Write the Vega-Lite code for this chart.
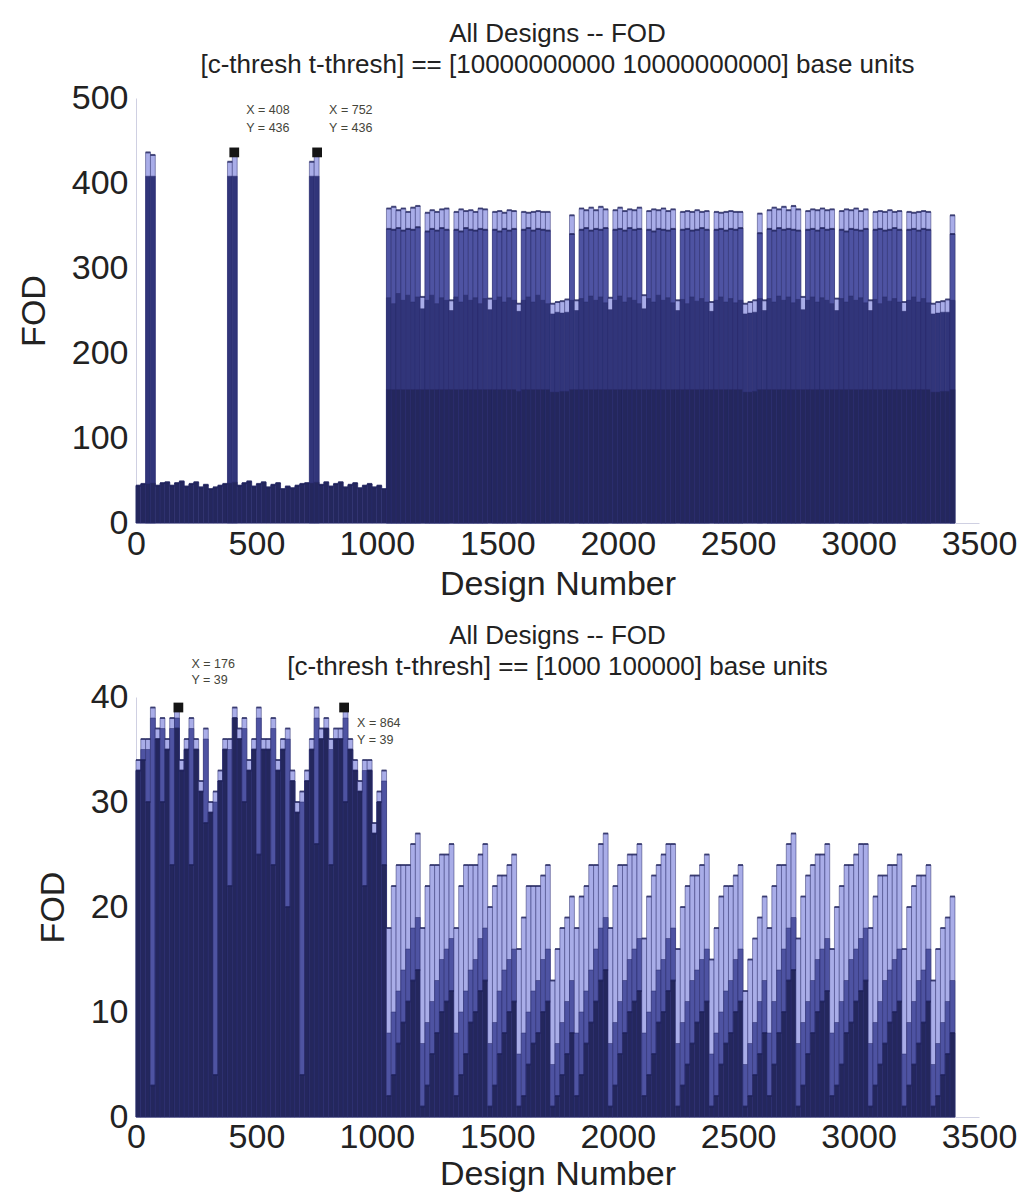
{
  "$schema": "https://vega.github.io/schema/vega-lite/v6.json",
  "background": "white",
  "padding": {"left": 17, "top": 21, "right": 5, "bottom": 2},
  "spacing": 21,
  "config": {
    "font": "Liberation Sans",
    "view": {"stroke": null},
    "axis": {"labelFont": "Liberation Sans", "labelFontSize": 34, "labelColor": "#222", "titleFont": "Liberation Sans", "titleFontSize": 34, "titleFontWeight": "normal", "titleColor": "#222", "grid": false, "ticks": false, "domainColor": "#cfd0e2", "domainWidth": 1},
    "title": {"font": "Liberation Sans", "fontSize": 26, "fontWeight": "normal", "color": "#222", "lineHeight": 31, "anchor": "middle"},
    "scale": {"continuousPadding": 0}
  },
  "vconcat": [
    {
      "width": 843,
      "height": 425,
      "title": {"text": ["All Designs -- FOD", "[c-thresh t-thresh] == [10000000000 10000000000] base units"], "offset": 3},
      "encoding": {
        "x": {"field": "d", "type": "quantitative", "scale": {"domain": [0, 3500], "nice": false, "zero": false, "padding": 0}, "title": "Design Number", "axis": {"values": [0, 500, 1000, 1500, 2000, 2500, 3000, 3500], "format": "d", "labelPadding": 4, "titlePadding": 6, "labelFlush": false, "labelOverlap": false}}
      },
      "layer": [
        {
          "data": {"name": "top"},
          "transform": [{"fold": ["h", "m", "k", "l"], "as": ["key", "value"]}, {"filter": "isValid(datum.value)"}],
          "mark": {"type": "bar", "width": 4.9, "stroke": "#2a2d6c", "strokeWidth": 0.5},
          "encoding": {
            "y": {"field": "value", "type": "quantitative", "stack": null, "scale": {"domain": [0, 500], "nice": false}, "title": "FOD", "axis": {"values": [0, 100, 200, 300, 400, 500], "labelPadding": 8, "titlePadding": 20}},
            "color": {"field": "key", "type": "nominal", "scale": {"domain": ["h", "m", "k", "l"], "range": ["#a9ade8", "#4e53a2", "#31357a", "#24275d"]}, "legend": null}
          }
        },
        {
          "data": {"name": "top"},
          "transform": [{"fold": ["h", "m"], "as": ["key", "value"]}, {"filter": "isValid(datum.value)"}],
          "mark": {"type": "tick", "orient": "horizontal", "size": 4.9, "thickness": 2, "color": "#1d2058"},
          "encoding": {
            "y": {"field": "value", "type": "quantitative", "stack": null, "title": "FOD"}
          }
        },
        {
          "data": {"name": "topTips"},
          "mark": {"type": "point", "shape": "square", "filled": true, "size": 95, "color": "#151515", "opacity": 1},
          "encoding": {
            "y": {"field": "v", "type": "quantitative", "title": "FOD"}
          }
        },
        {
          "data": {"name": "topTips"},
          "mark": {"type": "text", "align": "left", "baseline": "top", "dx": 12, "dy": -48, "lineBreak": "\n", "lineHeight": 18, "fontSize": 12.5, "color": "#45453a"},
          "encoding": {
            "y": {"field": "v", "type": "quantitative", "title": "FOD"},
            "text": {"field": "t"}
          }
        }
      ]
    },
    {
      "width": 843,
      "height": 420,
      "title": {"text": ["All Designs -- FOD", "[c-thresh t-thresh] == [1000 100000] base units"], "offset": -22},
      "encoding": {
        "x": {"field": "d", "type": "quantitative", "scale": {"domain": [0, 3500], "nice": false, "zero": false, "padding": 0}, "title": "Design Number", "axis": {"values": [0, 500, 1000, 1500, 2000, 2500, 3000, 3500], "format": "d", "labelPadding": 3, "titlePadding": 3, "labelFlush": false, "labelOverlap": false}}
      },
      "layer": [
        {
          "data": {"name": "bottom"},
          "transform": [{"fold": ["h", "m", "l"], "as": ["key", "value"]}, {"filter": "isValid(datum.value)"}],
          "mark": {"type": "bar", "width": 4.9, "stroke": "#2a2d6c", "strokeWidth": 0.5},
          "encoding": {
            "y": {"field": "value", "type": "quantitative", "stack": null, "scale": {"domain": [0, 40], "nice": false}, "title": "FOD", "axis": {"values": [0, 10, 20, 30, 40], "labelPadding": 8, "titlePadding": 20}},
            "color": {"field": "key", "type": "nominal", "scale": {"domain": ["h", "m", "l"], "range": ["#c2c4f0", "#8c90d4", "#30347a"]}, "legend": null}
          }
        },
        {
          "data": {"name": "bottom"},
          "transform": [{"fold": ["h", "l"], "as": ["key", "value"]}, {"filter": "isValid(datum.value)"}],
          "mark": {"type": "tick", "orient": "horizontal", "size": 4.9, "thickness": 2, "color": "#1d2058"},
          "encoding": {
            "y": {"field": "value", "type": "quantitative", "stack": null, "title": "FOD"}
          }
        },
        {
          "data": {"name": "bottomTips"},
          "mark": {"type": "point", "shape": "square", "filled": true, "size": 95, "color": "#151515", "opacity": 1},
          "encoding": {
            "y": {"field": "v", "type": "quantitative", "title": "FOD"}
          }
        },
        {
          "data": {"name": "bottomTips"},
          "transform": [{"filter": "datum.d < 500"}],
          "mark": {"type": "text", "align": "left", "baseline": "top", "dx": 13, "dy": -50, "lineBreak": "\n", "lineHeight": 16, "fontSize": 12.5, "color": "#45453a"},
          "encoding": {
            "y": {"field": "v", "type": "quantitative", "title": "FOD"},
            "text": {"field": "t"}
          }
        },
        {
          "data": {"name": "bottomTips"},
          "transform": [{"filter": "datum.d > 500"}],
          "mark": {"type": "text", "align": "left", "baseline": "top", "dx": 13, "dy": 9, "lineBreak": "\n", "lineHeight": 17, "fontSize": 12.5, "color": "#45453a"},
          "encoding": {
            "y": {"field": "v", "type": "quantitative", "title": "FOD"},
            "text": {"field": "t"}
          }
        }
      ]
    }
  ],
  "datasets": {
    "topTips": [
      {"d": 408, "v": 436, "t": "X = 408\nY = 436"},
      {"d": 752, "v": 436, "t": "X = 752\nY = 436"}
    ],
    "bottomTips": [
      {"d": 176, "v": 39, "t": "X = 176\nY = 39"},
      {"d": 864, "v": 39, "t": "X = 864\nY = 39"}
    ],
    "top": [
      {"d":10,"h":44,"l":44},{"d":30,"h":46,"l":46},{"d":50,"h":436,"k":408,"l":46},{"d":70,"h":433,"k":408,"l":47},
      {"d":90,"h":44,"l":44},{"d":110,"h":47,"l":47},{"d":130,"h":48,"l":48},{"d":150,"h":44,"l":44},
      {"d":170,"h":47,"l":47},{"d":190,"h":49,"l":49},{"d":210,"h":43,"l":43},{"d":230,"h":46,"l":46},
      {"d":250,"h":48,"l":48},{"d":270,"h":42,"l":42},{"d":290,"h":45,"l":45},{"d":310,"h":40,"l":40},
      {"d":330,"h":42,"l":42},{"d":350,"h":44,"l":44},{"d":370,"h":46,"l":46},{"d":390,"h":425,"k":408,"l":47},
      {"d":410,"h":436,"k":408,"l":48},{"d":430,"h":44,"l":44},{"d":450,"h":47,"l":47},{"d":470,"h":49,"l":49},
      {"d":490,"h":43,"l":43},{"d":510,"h":46,"l":46},{"d":530,"h":48,"l":48},{"d":550,"h":42,"l":42},
      {"d":570,"h":45,"l":45},{"d":590,"h":47,"l":47},{"d":610,"h":40,"l":40},{"d":630,"h":43,"l":43},
      {"d":650,"h":41,"l":41},{"d":670,"h":44,"l":44},{"d":690,"h":46,"l":46},{"d":710,"h":47,"l":47},
      {"d":730,"h":425,"k":408,"l":47},{"d":750,"h":436,"k":408,"l":48},{"d":770,"h":45,"l":45},{"d":790,"h":48,"l":48},
      {"d":810,"h":43,"l":43},{"d":830,"h":46,"l":46},{"d":850,"h":48,"l":48},{"d":870,"h":42,"l":42},
      {"d":890,"h":45,"l":45},{"d":910,"h":47,"l":47},{"d":930,"h":41,"l":41},{"d":950,"h":44,"l":44},
      {"d":970,"h":46,"l":46},{"d":990,"h":42,"l":42},{"d":1010,"h":44,"l":44},{"d":1030,"h":40,"l":40},
      {"d":1050,"h":370,"m":346,"k":265,"l":157},{"d":1070,"h":372,"m":345,"k":258,"l":157},{"d":1090,"h":368,"m":347,"k":270,"l":157},
      {"d":1110,"h":370,"m":344,"k":262,"l":157},{"d":1130,"h":366,"m":346,"k":268,"l":157},{"d":1150,"h":371,"m":345,"k":260,"l":157},
      {"d":1170,"h":373,"m":348,"k":266,"l":157},{"d":1190,"h":266,"k":252,"l":157},
      {"d":1210,"h":365,"m":343,"k":262,"l":157},{"d":1230,"h":368,"m":346,"k":268,"l":157},{"d":1250,"h":366,"m":344,"k":258,"l":157},
      {"d":1270,"h":369,"m":347,"k":265,"l":157},{"d":1290,"h":370,"m":345,"k":262,"l":157},{"d":1310,"h":262,"k":250,"l":157},
      {"d":1330,"h":366,"m":345,"k":266,"l":157},{"d":1350,"h":369,"m":343,"k":260,"l":157},{"d":1370,"h":367,"m":347,"k":268,"l":157},
      {"d":1390,"h":368,"m":345,"k":262,"l":157},{"d":1410,"h":366,"m":344,"k":265,"l":157},{"d":1430,"h":370,"m":346,"k":258,"l":157},
      {"d":1450,"h":369,"m":345,"k":264,"l":157},{"d":1470,"h":264,"k":251,"l":157},
      {"d":1490,"h":366,"m":345,"k":262,"l":157},{"d":1510,"h":367,"m":343,"k":266,"l":157},{"d":1530,"h":365,"m":346,"k":260,"l":157},
      {"d":1550,"h":368,"m":344,"k":265,"l":157},{"d":1570,"h":367,"m":346,"k":262,"l":157},{"d":1590,"h":258,"k":249,"l":155},
      {"d":1610,"h":366,"m":345,"k":262,"l":157},{"d":1630,"h":365,"m":347,"k":266,"l":157},{"d":1650,"h":366,"m":344,"k":260,"l":157},
      {"d":1670,"h":367,"m":346,"k":268,"l":157},{"d":1690,"h":366,"m":345,"k":262,"l":157},{"d":1710,"h":366,"m":344,"k":258,"l":157},
      {"d":1730,"h":258,"k":246,"l":154},{"d":1750,"h":260,"k":248,"l":154},{"d":1770,"h":261,"k":247,"l":155},{"d":1790,"h":263,"k":248,"l":155},
      {"d":1810,"h":362,"m":340,"k":262,"l":157},{"d":1830,"h":262,"k":250,"l":157},
      {"d":1850,"h":370,"m":345,"k":264,"l":157},{"d":1870,"h":368,"m":347,"k":260,"l":157},{"d":1890,"h":371,"m":344,"k":267,"l":157},
      {"d":1910,"h":368,"m":346,"k":262,"l":157},{"d":1930,"h":372,"m":345,"k":266,"l":157},{"d":1950,"h":369,"m":347,"k":259,"l":157},
      {"d":1970,"h":265,"k":251,"l":157},
      {"d":1990,"h":368,"m":345,"k":262,"l":157},{"d":2010,"h":371,"m":346,"k":267,"l":157},{"d":2030,"h":367,"m":344,"k":260,"l":157},
      {"d":2050,"h":369,"m":347,"k":265,"l":157},{"d":2070,"h":368,"m":345,"k":262,"l":157},{"d":2090,"h":371,"m":346,"k":258,"l":157},
      {"d":2110,"h":268,"k":252,"l":157},
      {"d":2130,"h":367,"m":345,"k":264,"l":157},{"d":2150,"h":369,"m":343,"k":260,"l":157},{"d":2170,"h":368,"m":346,"k":268,"l":157},
      {"d":2190,"h":370,"m":345,"k":262,"l":157},{"d":2210,"h":367,"m":344,"k":265,"l":157},{"d":2230,"h":369,"m":346,"k":259,"l":157},
      {"d":2250,"h":262,"k":250,"l":157},
      {"d":2270,"h":366,"m":345,"k":263,"l":157},{"d":2290,"h":367,"m":346,"k":258,"l":157},{"d":2310,"h":366,"m":344,"k":266,"l":157},
      {"d":2330,"h":368,"m":345,"k":261,"l":157},{"d":2350,"h":366,"m":347,"k":264,"l":157},{"d":2370,"h":367,"m":345,"k":260,"l":157},
      {"d":2390,"h":260,"k":249,"l":157},
      {"d":2410,"h":366,"m":345,"k":262,"l":157},{"d":2430,"h":365,"m":346,"k":266,"l":157},{"d":2450,"h":366,"m":344,"k":260,"l":157},
      {"d":2470,"h":367,"m":346,"k":264,"l":157},{"d":2490,"h":366,"m":345,"k":259,"l":157},{"d":2510,"h":366,"m":347,"k":262,"l":157},
      {"d":2530,"h":258,"k":246,"l":154},{"d":2550,"h":260,"k":247,"l":154},{"d":2570,"h":262,"k":248,"l":155},
      {"d":2590,"h":364,"m":341,"k":264,"l":157},{"d":2610,"h":262,"k":250,"l":157},
      {"d":2630,"h":368,"m":346,"k":264,"l":157},{"d":2650,"h":371,"m":344,"k":260,"l":157},{"d":2670,"h":369,"m":347,"k":267,"l":157},
      {"d":2690,"h":372,"m":345,"k":262,"l":157},{"d":2710,"h":368,"m":346,"k":266,"l":157},{"d":2730,"h":373,"m":345,"k":259,"l":157},
      {"d":2750,"h":369,"m":344,"k":263,"l":157},{"d":2770,"h":266,"k":251,"l":157},
      {"d":2790,"h":367,"m":345,"k":262,"l":157},{"d":2810,"h":369,"m":346,"k":266,"l":157},{"d":2830,"h":368,"m":344,"k":260,"l":157},
      {"d":2850,"h":370,"m":347,"k":265,"l":157},{"d":2870,"h":368,"m":345,"k":262,"l":157},{"d":2890,"h":369,"m":346,"k":258,"l":157},
      {"d":2910,"h":264,"k":250,"l":157},
      {"d":2930,"h":367,"m":345,"k":264,"l":157},{"d":2950,"h":369,"m":343,"k":260,"l":157},{"d":2970,"h":368,"m":346,"k":267,"l":157},
      {"d":2990,"h":370,"m":345,"k":262,"l":157},{"d":3010,"h":367,"m":344,"k":265,"l":157},{"d":3030,"h":369,"m":346,"k":259,"l":157},
      {"d":3050,"h":262,"k":250,"l":157},
      {"d":3070,"h":366,"m":345,"k":263,"l":157},{"d":3090,"h":367,"m":346,"k":258,"l":157},{"d":3110,"h":366,"m":344,"k":266,"l":157},
      {"d":3130,"h":368,"m":345,"k":261,"l":157},{"d":3150,"h":366,"m":347,"k":264,"l":157},{"d":3170,"h":367,"m":345,"k":260,"l":157},
      {"d":3190,"h":260,"k":249,"l":157},
      {"d":3210,"h":366,"m":345,"k":262,"l":157},{"d":3230,"h":365,"m":346,"k":266,"l":157},{"d":3250,"h":366,"m":344,"k":260,"l":157},
      {"d":3270,"h":367,"m":346,"k":264,"l":157},{"d":3290,"h":366,"m":345,"k":259,"l":157},
      {"d":3310,"h":258,"k":246,"l":154},{"d":3330,"h":260,"k":247,"l":154},{"d":3350,"h":261,"k":248,"l":155},{"d":3370,"h":263,"k":248,"l":155},
      {"d":3390,"h":362,"m":340,"k":262,"l":157}
    ],
    "bottom": [
      {"d":10,"h":34,"m":33,"l":33},{"d":30,"h":36,"m":35,"l":34},{"d":50,"h":36,"m":35,"l":30},{"d":70,"h":39,"m":38,"l":3},
      {"d":90,"h":37,"m":36,"l":36},{"d":110,"h":38,"m":37,"l":30},{"d":130,"h":36,"m":35,"l":35},{"d":150,"h":38,"m":37,"l":24},
      {"d":170,"h":39,"m":38,"l":37},{"d":190,"h":34,"m":33,"l":33},{"d":210,"h":36,"m":35,"l":35},{"d":230,"h":38,"m":37,"l":24},
      {"d":250,"h":36,"m":35,"l":35},{"d":270,"h":32,"m":31,"l":31},{"d":290,"h":37,"m":36,"l":28},{"d":310,"h":30,"m":29,"l":29},
      {"d":330,"h":31,"m":30,"l":4},{"d":350,"h":33,"m":32,"l":32},{"d":370,"h":36,"m":35,"l":35},{"d":390,"h":36,"m":35,"l":22},
      {"d":410,"h":39,"m":38,"l":38},{"d":430,"h":37,"m":36,"l":36},{"d":450,"h":38,"m":37,"l":30},{"d":470,"h":34,"m":33,"l":33},
      {"d":490,"h":36,"m":35,"l":35},{"d":510,"h":39,"m":38,"l":25},{"d":530,"h":36,"m":35,"l":35},{"d":550,"h":36,"m":35,"l":35},
      {"d":570,"h":38,"m":37,"l":24},{"d":590,"h":34,"m":33,"l":33},{"d":610,"h":36,"m":35,"l":35},{"d":630,"h":37,"m":36,"l":20},
      {"d":650,"h":33,"m":32,"l":32},{"d":670,"h":30,"m":29,"l":29},{"d":690,"h":31,"m":30,"l":4},{"d":710,"h":33,"m":32,"l":32},
      {"d":730,"h":36,"m":35,"l":35},{"d":750,"h":39,"m":38,"l":26},{"d":770,"h":37,"m":36,"l":36},{"d":790,"h":38,"m":37,"l":37},
      {"d":810,"h":36,"m":35,"l":24},{"d":830,"h":37,"m":36,"l":36},{"d":850,"h":37,"m":36,"l":36},{"d":870,"h":39,"m":38,"l":30},
      {"d":890,"h":36,"m":35,"l":35},{"d":910,"h":34,"m":33,"l":33},{"d":930,"h":32,"m":31,"l":31},{"d":950,"h":34,"m":33,"l":22},
      {"d":970,"h":34,"m":33,"l":33},{"d":990,"h":28,"m":27,"l":27},{"d":1010,"h":31,"m":30,"l":30},{"d":1030,"h":33,"m":32,"l":24},
      {"d":1050,"h":18,"m":8,"l":2},{"d":1070,"h":22,"m":10,"l":4},{"d":1090,"h":24,"m":12,"l":7},{"d":1110,"h":24,"m":14,"l":9},
      {"d":1130,"h":24,"m":16,"l":11},{"d":1150,"h":26,"m":18,"l":13},{"d":1170,"h":27,"m":19,"l":14},
      {"d":1190,"h":18,"m":7,"l":1},{"d":1210,"h":22,"m":9,"l":3},{"d":1230,"h":24,"m":11,"l":6},{"d":1250,"h":24,"m":13,"l":8},
      {"d":1270,"h":25,"m":15,"l":10},{"d":1290,"h":25,"m":16,"l":11},{"d":1310,"h":26,"m":17,"l":12},
      {"d":1330,"h":18,"m":8,"l":2},{"d":1350,"h":22,"m":10,"l":4},{"d":1370,"h":24,"m":12,"l":6},{"d":1390,"h":24,"m":14,"l":9},
      {"d":1410,"h":24,"m":15,"l":10},{"d":1430,"h":25,"m":17,"l":12},{"d":1450,"h":26,"m":18,"l":13},
      {"d":1470,"h":20,"m":7,"l":1},{"d":1490,"h":22,"m":9,"l":3},{"d":1510,"h":23,"m":12,"l":6},{"d":1530,"h":23,"m":14,"l":8},
      {"d":1550,"h":24,"m":15,"l":10},{"d":1570,"h":25,"m":16,"l":11},
      {"d":1590,"h":16,"m":6,"l":1},{"d":1610,"h":19,"m":8,"l":2},{"d":1630,"h":22,"m":10,"l":5},{"d":1650,"h":22,"m":12,"l":7},
      {"d":1670,"h":22,"m":13,"l":8},{"d":1690,"h":23,"m":15,"l":10},{"d":1710,"h":24,"m":16,"l":11},
      {"d":1730,"h":13,"m":5,"l":1},{"d":1750,"h":16,"m":7,"l":2},{"d":1770,"h":18,"m":9,"l":4},{"d":1790,"h":19,"m":11,"l":6},{"d":1810,"h":21,"m":13,"l":8},
      {"d":1830,"h":18,"m":8,"l":2},{"d":1850,"h":21,"m":10,"l":4},{"d":1870,"h":22,"m":12,"l":7},{"d":1890,"h":24,"m":14,"l":9},
      {"d":1910,"h":24,"m":16,"l":11},{"d":1930,"h":26,"m":18,"l":13},{"d":1950,"h":27,"m":19,"l":14},
      {"d":1970,"h":18,"m":7,"l":1},{"d":1990,"h":22,"m":9,"l":3},{"d":2010,"h":24,"m":11,"l":6},{"d":2030,"h":24,"m":13,"l":8},
      {"d":2050,"h":25,"m":15,"l":10},{"d":2070,"h":25,"m":16,"l":11},{"d":2090,"h":26,"m":17,"l":12},
      {"d":2110,"h":17,"m":8,"l":2},{"d":2130,"h":21,"m":10,"l":4},{"d":2150,"h":23,"m":12,"l":6},{"d":2170,"h":24,"m":14,"l":9},
      {"d":2190,"h":25,"m":15,"l":10},{"d":2210,"h":26,"m":17,"l":12},{"d":2230,"h":26,"m":18,"l":13},
      {"d":2250,"h":16,"m":7,"l":1},{"d":2270,"h":20,"m":9,"l":3},{"d":2290,"h":22,"m":11,"l":5},{"d":2310,"h":23,"m":13,"l":7},
      {"d":2330,"h":23,"m":14,"l":9},{"d":2350,"h":24,"m":15,"l":10},{"d":2370,"h":25,"m":16,"l":11},
      {"d":2390,"h":15,"m":6,"l":1},{"d":2410,"h":18,"m":8,"l":2},{"d":2430,"h":21,"m":10,"l":5},{"d":2450,"h":22,"m":12,"l":7},
      {"d":2470,"h":22,"m":13,"l":8},{"d":2490,"h":23,"m":15,"l":10},{"d":2510,"h":24,"m":16,"l":11},
      {"d":2530,"h":12,"m":5,"l":1},{"d":2550,"h":15,"m":7,"l":2},{"d":2570,"h":17,"m":9,"l":4},{"d":2590,"h":19,"m":11,"l":6},{"d":2610,"h":21,"m":13,"l":8},
      {"d":2630,"h":18,"m":8,"l":2},{"d":2650,"h":22,"m":11,"l":5},{"d":2670,"h":24,"m":14,"l":8},{"d":2690,"h":24,"m":16,"l":10},
      {"d":2710,"h":26,"m":18,"l":13},{"d":2730,"h":27,"m":19,"l":14},
      {"d":2750,"h":17,"m":7,"l":1},{"d":2770,"h":21,"m":9,"l":3},{"d":2790,"h":23,"m":11,"l":6},{"d":2810,"h":24,"m":13,"l":8},
      {"d":2830,"h":25,"m":15,"l":10},{"d":2850,"h":25,"m":16,"l":11},{"d":2870,"h":26,"m":17,"l":12},
      {"d":2890,"h":16,"m":8,"l":2},{"d":2910,"h":20,"m":9,"l":3},{"d":2930,"h":22,"m":11,"l":5},{"d":2950,"h":24,"m":13,"l":8},
      {"d":2970,"h":24,"m":15,"l":9},{"d":2990,"h":25,"m":16,"l":11},{"d":3010,"h":26,"m":17,"l":12},{"d":3030,"h":26,"m":18,"l":13},
      {"d":3050,"h":18,"m":7,"l":1},{"d":3070,"h":21,"m":9,"l":3},{"d":3090,"h":23,"m":11,"l":5},{"d":3110,"h":23,"m":13,"l":7},
      {"d":3130,"h":24,"m":14,"l":9},{"d":3150,"h":24,"m":15,"l":10},{"d":3170,"h":25,"m":16,"l":11},
      {"d":3190,"h":16,"m":6,"l":1},{"d":3210,"h":20,"m":9,"l":3},{"d":3230,"h":22,"m":11,"l":5},{"d":3250,"h":23,"m":13,"l":7},
      {"d":3270,"h":23,"m":14,"l":9},{"d":3290,"h":24,"m":16,"l":11},
      {"d":3310,"h":13,"m":5,"l":1},{"d":3330,"h":16,"m":7,"l":2},{"d":3350,"h":18,"m":9,"l":4},{"d":3370,"h":19,"m":11,"l":6},{"d":3390,"h":21,"m":13,"l":8}
    ]
  }
}
